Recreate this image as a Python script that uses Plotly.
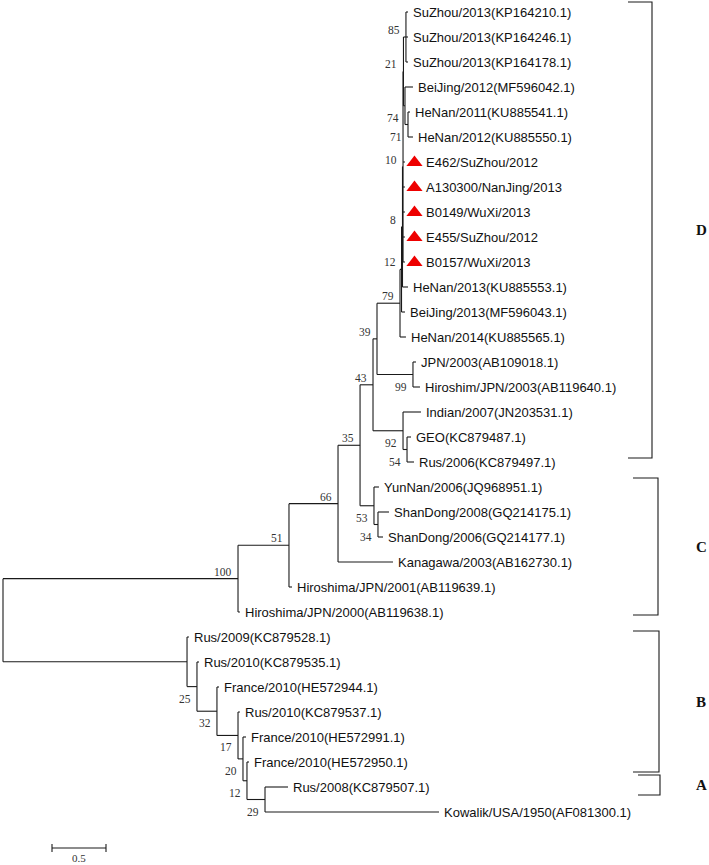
import plotly.graph_objects as go

# ---------------- data ----------------
leaf_names = [
    "SuZhou/2013(KP164210.1)", "SuZhou/2013(KP164246.1)", "SuZhou/2013(KP164178.1)",
    "BeiJing/2012(MF596042.1)", "HeNan/2011(KU885541.1)", "HeNan/2012(KU885550.1)",
    "E462/SuZhou/2012", "A130300/NanJing/2013", "B0149/WuXi/2013", "E455/SuZhou/2012",
    "B0157/WuXi/2013", "HeNan/2013(KU885553.1)", "BeiJing/2013(MF596043.1)",
    "HeNan/2014(KU885565.1)", "JPN/2003(AB109018.1)", "Hiroshim/JPN/2003(AB119640.1)",
    "Indian/2007(JN203531.1)", "GEO(KC879487.1)", "Rus/2006(KC879497.1)",
    "YunNan/2006(JQ968951.1)", "ShanDong/2008(GQ214175.1)", "ShanDong/2006(GQ214177.1)",
    "Kanagawa/2003(AB162730.1)", "Hiroshima/JPN/2001(AB119639.1)",
    "Hiroshima/JPN/2000(AB119638.1)", "Rus/2009(KC879528.1)", "Rus/2010(KC879535.1)",
    "France/2010(HE572944.1)", "Rus/2010(KC879537.1)", "France/2010(HE572991.1)",
    "France/2010(HE572950.1)", "Rus/2008(KC879507.1)", "Kowalik/USA/1950(AF081300.1)",
]
# distance of each tip from the root (substitution units)
leaf_depth = [
    3.750, 3.750, 3.750, 3.796, 3.769, 3.796,
    3.722, 3.722, 3.722, 3.722, 3.722,
    3.750, 3.722, 3.731, 3.824, 3.861,
    3.870, 3.778, 3.806, 3.481, 3.574, 3.519,
    3.611, 2.676, 2.194, 1.722, 1.815,
    2.000, 2.194, 2.250, 2.278, 2.639, 4.037,
]
# isolates from this study (red triangles)
marked_leaves = [6, 7, 8, 9, 10]

node_names = ["root", "n100", "n51", "n66", "n35", "n43", "n39", "n79", "n12", "n8",
              "n10", "n21", "n85", "n74", "n71", "n99", "n92", "n54", "n53", "n34",
              "nB", "n25", "n32", "n17", "n20", "n12b", "n29"]
node_depth = [0.000, 2.176, 2.648, 3.102, 3.306, 3.426, 3.463, 3.676, 3.690, 3.699,
              3.704, 3.708, 3.731, 3.722, 3.750, 3.796, 3.704, 3.741, 3.435, 3.472,
              1.704, 1.796, 1.981, 2.176, 2.222, 2.259, 2.426]
node_children = [
    ["n100", "nB"], ["n51", 24], ["n66", 23], ["n35", 22], ["n43", "n53"],
    ["n39", "n92"], ["n79", "n99"], ["n12", 13], ["n8", 12], ["n10", 11],
    ["n21", 6, 7, 8, 9, 10], ["n85", "n74"], [0, 1, 2], [3, "n71"], [4, 5],
    [14, 15], [16, "n54"], [17, 18], [19, "n34"], [20, 21],
    [25, "n25"], [26, "n32"], [27, "n17"], [28, "n20"], [29, "n12b"], [30, "n29"], [31, 32],
]
node_support = [None, 100, 51, 66, 35, 43, 39, 79, 12, 8,
                10, 21, 85, 74, 71, 99, 92, 54, 53, 34,
                None, 25, 32, 17, 20, 12, 29]

group_names = ["D", "C", "B", "A"]
group_top = [-0.40, 18.64, 24.76, 30.52]      # in tip-row units
group_bottom = [17.84, 24.12, 30.40, 31.32]

scale_bar_length = 0.5

# ---------------- layout constants ----------------
W, H = 709, 865
PX_PER_UNIT = 108.0
ROOT_PX = 3.0
ROW_PX = 25.0
TOP_PX = 12.0
PX = 1.0 / PX_PER_UNIT  # one pixel in x data units
PY = 1.0 / ROW_PX       # one pixel in y data units

# ---------------- compute layout ----------------
node_index = {n: i for i, n in enumerate(node_names)}
ypos = {}
parent = {}
for i, ch in enumerate(node_children):
    for c in ch:
        parent[c] = node_names[i]


def get_y(ref):
    if isinstance(ref, int):
        return float(ref)
    if ref in ypos:
        return ypos[ref]
    ch = node_children[node_index[ref]]
    y = (get_y(ch[0]) + get_y(ch[-1])) / 2.0
    ypos[ref] = y
    return y


def get_x(ref):
    if isinstance(ref, int):
        return leaf_depth[ref]
    return node_depth[node_index[ref]]


get_y("root")

lx, ly = [], []
for i, name in enumerate(node_names):
    ch = node_children[i]
    nx = node_depth[i]
    lx += [nx, nx, None]
    ly += [get_y(ch[0]), get_y(ch[-1]), None]
    for c in ch:
        lx += [nx, get_x(c), None]
        ly += [get_y(c), get_y(c), None]

fig = go.Figure()
fig.add_trace(go.Scatter(x=lx, y=ly, mode="lines",
                         line=dict(color="#1a1a1a", width=1.1),
                         hoverinfo="skip", showlegend=False))

# red triangles
fig.add_trace(go.Scatter(
    x=[leaf_depth[i] + 9.5 * PX for i in marked_leaves],
    y=[i + 0.5 * PY for i in marked_leaves],
    mode="markers",
    marker=dict(symbol="triangle-up", size=14, color="#ee0000", line=dict(width=0)),
    hoverinfo="skip", showlegend=False))

annotations = []
for i, name in enumerate(leaf_names):
    shift = 19 if i in marked_leaves else 3
    annotations.append(dict(
        x=leaf_depth[i], y=i, text=name, xref="x", yref="y",
        xanchor="left", yanchor="middle", xshift=shift, showarrow=False,
        font=dict(family="Liberation Sans, Arial", size=13, color="#111")))

# bootstrap support labels
for i, name in enumerate(node_names):
    s = node_support[i]
    if s is None:
        continue
    par = parent.get(name)
    is_lower = par is not None and node_children[node_index[par]][-1] == name
    annotations.append(dict(
        x=node_depth[i], y=ypos[name], text=str(s), xref="x", yref="y",
        xanchor="right", yanchor="middle", xshift=-4,
        yshift=-12 if is_lower else 7, showarrow=False,
        font=dict(family="Liberation Serif, Times New Roman", size=11.5, color="#333")))

# group brackets
bracket_vx = [652, 658, 659, 660]
bracket_lx = [628, 633, 633, 638]
bx, by = [], []
for k, g in enumerate(group_names):
    xv = (bracket_vx[k] - ROOT_PX) * PX
    xl = (bracket_lx[k] - ROOT_PX) * PX
    bx += [xl, xv, xv, xl, None]
    by += [group_top[k], group_top[k], group_bottom[k], group_bottom[k], None]
    annotations.append(dict(
        x=(701 - ROOT_PX) * PX, y=(group_top[k] + group_bottom[k]) / 2.0, text="<b>%s</b>" % g,
        xref="x", yref="y", xanchor="center", yanchor="middle", showarrow=False,
        font=dict(family="Liberation Serif, Times New Roman", size=15, color="#111")))
fig.add_trace(go.Scatter(x=bx, y=by, mode="lines",
                         line=dict(color="#1a1a1a", width=1.1),
                         hoverinfo="skip", showlegend=False))

# scale bar
sb_x0 = (52 - ROOT_PX) * PX
sb_x1 = sb_x0 + scale_bar_length
sb_y = (848 - TOP_PX) * PY
tick = 4 * PY
fig.add_trace(go.Scatter(
    x=[sb_x0, sb_x1, None, sb_x0, sb_x0, None, sb_x1, sb_x1],
    y=[sb_y, sb_y, None, sb_y - tick, sb_y + tick, None, sb_y - tick, sb_y + tick],
    mode="lines", line=dict(color="#1a1a1a", width=1.1),
    hoverinfo="skip", showlegend=False))
annotations.append(dict(
    x=(sb_x0 + sb_x1) / 2, y=sb_y, text=str(scale_bar_length), xref="x", yref="y",
    xanchor="center", yanchor="middle", yshift=-10, showarrow=False,
    borderpad=0,
    font=dict(family="Liberation Serif, Times New Roman", size=11, color="#333")))

fig.update_layout(
    width=W, height=H,
    margin=dict(l=0, r=0, t=0, b=0),
    paper_bgcolor="white", plot_bgcolor="white",
    xaxis=dict(range=[-ROOT_PX * PX, (W - ROOT_PX) * PX], visible=False, fixedrange=True),
    yaxis=dict(range=[(H - TOP_PX) * PY, -TOP_PX * PY], visible=False, fixedrange=True),
    annotations=annotations,
    showlegend=False,
)

fig.write_html(
    "out.html",
    config={"displayModeBar": False},
    post_script="document.body.style.margin='0';document.body.style.overflow='hidden';",
)
